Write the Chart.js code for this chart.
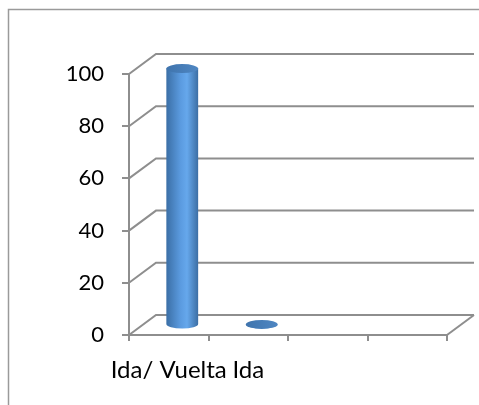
<!DOCTYPE html>
<html>
<head>
<meta charset="utf-8">
<script src="https://cdn.jsdelivr.net/npm/chart.js@4/dist/chart.umd.min.js"></script>
<style>
  html, body { margin: 0; padding: 0; background: #fff; }
  #wrap { width: 479px; height: 405px; position: relative; }
</style>
</head>
<body>
<div id="wrap"><canvas id="chart"></canvas></div>
<script>
// data
const categories = ['Ida/ Vuelta', 'Ida', '', ''];
const values = [99, 1, null, null];
const yTicks = [0, 20, 40, 60, 80, 100];

const DX = 27, DY = -20;   // depth offset of back wall
const lineCol = '#8e8e8e';

const walls3d = {
    id: 'walls3d',
    beforeDraw(chart) {
        const ctx = chart.ctx;
        ctx.save();
        ctx.fillStyle = '#fff';
        ctx.fillRect(0, 0, chart.width, chart.height);
        // outer frame (only top and left show)
        ctx.strokeStyle = '#9a9a9a';
        ctx.lineWidth = 1.5;
        ctx.strokeRect(8.5, 9.5, 600, 500);
        ctx.restore();
    },
    beforeDatasetsDraw(chart) {
        const ctx = chart.ctx;
        const x = chart.scales.x, y = chart.scales.y;
        const l = x.left, r = x.right;
        ctx.save();
        ctx.strokeStyle = lineCol;
        ctx.lineWidth = 2;
        yTicks.forEach(v => {
            const py = y.getPixelForValue(v);
            ctx.beginPath();
            ctx.moveTo(l, py);
            ctx.lineTo(l + DX, py + DY);
            ctx.lineTo(r + DX, py + DY);
            ctx.stroke();
        });
        // right edge of the floor
        const py0 = y.getPixelForValue(0);
        ctx.beginPath();
        ctx.moveTo(r, py0);
        ctx.lineTo(r + DX, py0 + DY);
        ctx.stroke();
        ctx.restore();
    },
    afterDatasetsDraw(chart) {
        const ctx = chart.ctx;
        const meta = chart.getDatasetMeta(0);
        meta.data.forEach((el, i) => {
            if (values[i] == null) return;
            const w = el.width;
            const cx = el.x + DX / 2;
            const top = el.y + DY / 2 + 2;
            const base = el.base + DY / 2;
            const l = cx - w / 2, rr = cx + w / 2;
            const ry = 4.5;
            const g = ctx.createLinearGradient(l, 0, rr, 0);
            g.addColorStop(0, '#3b6fa6');
            g.addColorStop(0.45, '#5b9be0');
            g.addColorStop(0.65, '#66a8ec');
            g.addColorStop(1, '#3c6ea4');
            ctx.save();
            // body
            ctx.fillStyle = g;
            ctx.beginPath();
            ctx.moveTo(l, top);
            ctx.lineTo(l, base);
            ctx.ellipse(cx, base, w / 2, ry, 0, Math.PI, 0, true);
            ctx.lineTo(rr, top);
            ctx.closePath();
            ctx.fill();
            // top cap
            const tg = ctx.createLinearGradient(l, 0, rr, 0);
            tg.addColorStop(0, '#3f74ad');
            tg.addColorStop(1, '#4f86c2');
            ctx.fillStyle = tg;
            ctx.beginPath();
            ctx.ellipse(cx, top, w / 2, ry, 0, 0, Math.PI * 2);
            ctx.fill();
            ctx.restore();
        });
    }
};

new Chart(document.getElementById('chart'), {
    type: 'bar',
    data: {
        labels: categories,
        datasets: [{
            data: values,
            backgroundColor: 'rgba(0,0,0,0)',
            borderWidth: 0,
            barPercentage: 0.4,
            categoryPercentage: 1.0,
        }],
    },
    options: {
        responsive: true,
        maintainAspectRatio: false,
        animation: false,
        layout: { padding: { top: 74, right: 32, left: 0, bottom: 0 } },
        plugins: { legend: { display: false }, tooltip: { enabled: false } },
        scales: {
            x: {
                grid: { display: true, drawOnChartArea: false, drawTicks: true, tickLength: 6, color: lineCol, lineWidth: 2, offset: true },
                border: { display: true, color: lineCol, width: 2 },
                ticks: { color: '#000', font: { family: 'Lato', size: 24 }, padding: 15, maxRotation: 0, autoSkip: false },
                afterFit(s) { s.height = 70; },
            },
            y: {
                min: 0, max: 100,
                grid: { display: true, drawOnChartArea: false, drawTicks: true, tickLength: 7, color: lineCol, lineWidth: 2 },
                border: { display: true, color: lineCol, width: 2 },
                ticks: { stepSize: 20, color: '#000', font: { family: 'Lato', size: 22 }, padding: 18 },
                afterFit(s) { s.width = 129; },
            },
        },
    },
    plugins: [walls3d],
});
</script>
</body>
</html>
